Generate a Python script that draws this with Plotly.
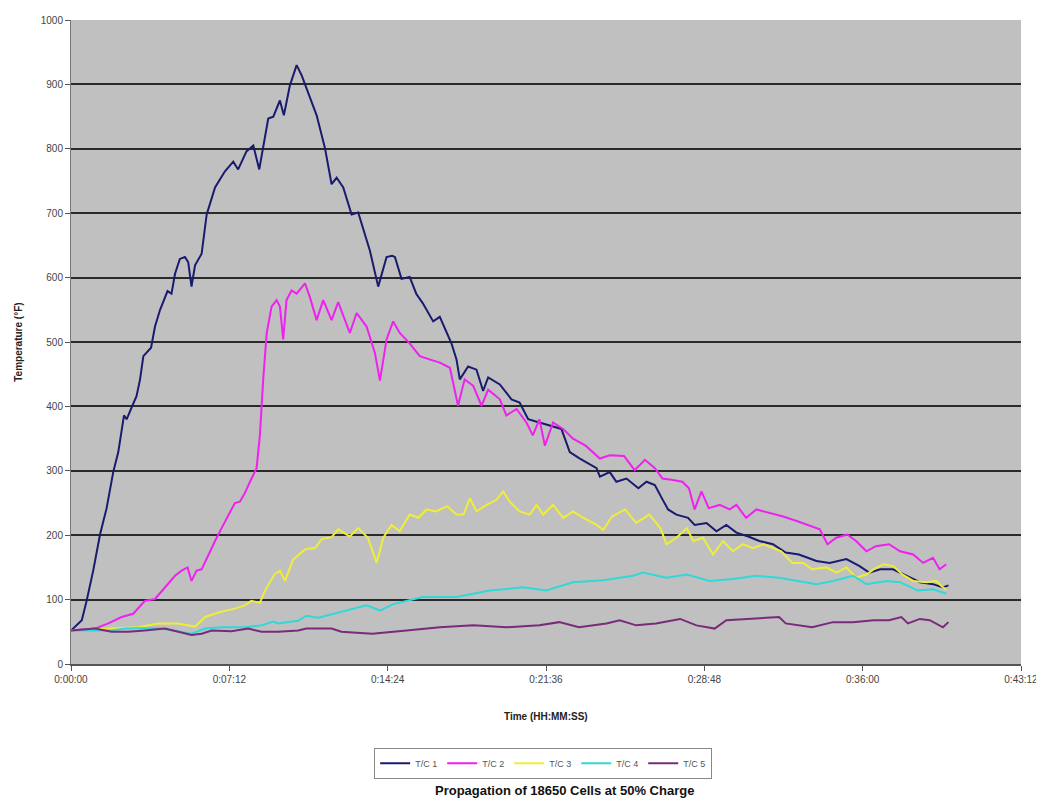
import plotly.graph_objects as go

# ---- data (time in minutes, temperature in °F) ----
TC1_T = [0.0, 0.49, 0.71, 1.01, 1.32, 1.62, 1.92, 2.15, 2.41, 2.53, 2.79, 2.98, 3.14, 3.29, 3.64, 3.82,
         4.05, 4.27, 4.39, 4.57, 4.73, 4.95, 5.18, 5.33, 5.48, 5.64, 5.79, 5.94, 6.17, 6.55, 7.0, 7.38,
         7.6, 7.98, 8.29, 8.56, 8.97, 9.2, 9.5, 9.68, 9.95, 10.26, 10.49, 10.71, 11.17, 11.55, 11.85,
         12.08, 12.38, 12.76, 13.06, 13.59, 13.97, 14.35, 14.6, 14.73, 15.03, 15.4, 15.7, 16.0, 16.47,
         16.77, 17.3, 17.53, 17.68, 18.06, 18.44, 18.74, 18.97, 19.5, 20.03, 20.4, 20.79, 21.3, 22.3,
         22.68, 23.14, 23.9, 24.05, 24.5, 24.8, 25.26, 25.8, 26.17, 26.55, 26.86, 27.15, 27.53, 28.06,
         28.36, 28.9, 29.35, 29.8, 30.26, 30.8, 31.3, 31.92, 32.5, 33.1, 33.9, 34.5, 35.26, 35.86,
         36.3, 36.8, 37.38, 37.98, 38.6, 39.2, 39.65, 39.9]
TC1_V = [52, 68, 98, 145, 201, 242, 298, 329, 386, 380, 401, 416, 442, 478, 491, 524,
         550, 570, 579, 575, 606, 629, 632, 624, 586, 619, 627, 637, 698, 740, 765, 780,
         768, 796, 805, 768, 847, 850, 875, 852, 898, 930, 914, 893, 852, 801, 745,
         755, 740, 698, 701, 642, 586, 632, 634, 632, 598, 601, 575, 560, 532,
         539, 498, 473, 442, 462, 457, 424, 445, 434, 411, 406, 380, 375, 365,
         329, 319, 304, 291, 298, 283, 288, 273, 283, 278, 258, 240, 232, 227,
         216, 219, 206, 216, 204, 198, 191, 186, 173, 170, 160, 157, 163, 152,
         142, 147, 147, 137, 127, 124, 119, 122]

TC2_T = [0.0, 1.09, 1.7, 2.3, 2.83, 3.36, 3.82, 4.27, 4.73, 5.03, 5.3, 5.48, 5.71, 5.94, 6.24, 6.55,
         6.85, 7.23, 7.45, 7.68, 7.9, 8.14, 8.44, 8.59, 8.74, 8.9, 9.12, 9.35, 9.5, 9.65, 9.8, 10.03,
         10.26, 10.64, 10.86, 11.17, 11.47, 11.85, 12.15, 12.68, 12.99, 13.44, 13.82, 14.05, 14.35,
         14.65, 14.95, 15.4, 15.86, 16.3, 16.77, 17.23, 17.6, 17.9, 18.29, 18.67, 18.97, 19.5, 19.8,
         20.26, 20.71, 21.0, 21.3, 21.55, 21.92, 22.38, 22.83, 23.4, 24.05, 24.5, 25.15, 25.63, 26.1,
         26.55, 26.9, 27.3, 27.8, 28.1, 28.36, 28.67, 29.0, 29.5, 29.95, 30.26, 30.7, 31.17, 31.77,
         32.38, 33.0, 33.6, 34.05, 34.4, 34.8, 35.3, 35.7, 36.17, 36.6, 37.2, 37.7, 38.3, 38.75,
         39.2, 39.5, 39.8]
TC2_V = [52, 55, 63, 73, 78, 98, 101, 119, 137, 145, 150, 129, 145, 147, 170, 191,
         211, 237, 250, 252, 265, 283, 304, 355, 442, 514, 555, 565, 555, 504, 565, 580,
         575, 591, 570, 534, 565, 534, 562, 514, 545, 524, 483, 440, 504,
         532, 514, 498, 478, 473, 468, 460, 401, 442, 432, 401, 426, 411, 386,
         396, 375, 355, 380, 339, 375, 365, 350, 339, 319, 324, 323, 301, 317,
         304, 288, 286, 283, 273, 240, 268, 242, 247, 240, 247, 227, 240, 235,
         229, 222, 214, 209, 186, 196, 201, 191, 175, 183, 186, 175, 170, 157,
         165, 147, 155]

TC3_T = [0.0, 1.85, 3.06, 3.97, 4.88, 5.64, 6.1, 6.7, 7.45, 7.9, 8.2, 8.59, 8.82, 9.27, 9.5, 9.73,
         10.1, 10.64, 11.1, 11.4, 11.85, 12.15, 12.68, 13.06, 13.5, 13.9, 14.2, 14.58, 14.95, 15.4,
         15.8, 16.17, 16.6, 17.1, 17.53, 17.85, 18.14, 18.44, 18.9, 19.35, 19.65, 19.95, 20.4, 20.86,
         21.17, 21.47, 21.92, 22.38, 22.83, 23.3, 23.9, 24.2, 24.6, 25.2, 25.7, 26.3, 26.8, 27.08,
         27.53, 28.0, 28.3, 28.74, 29.2, 29.65, 30.1, 30.56, 31.0, 31.5, 31.9, 32.3, 32.8, 33.3,
         33.7, 34.35, 34.8, 35.26, 35.7, 36.17, 36.5, 36.95, 37.4, 37.8, 38.3, 38.9, 39.35, 39.65, 39.8]
TC3_V = [52, 55, 57, 63, 63, 58, 73, 80, 86, 91, 98, 95, 114, 140, 145, 129,
         162, 178, 180, 194, 197, 209, 198, 211, 196, 157, 196, 216, 206, 232,
         227, 240, 237, 245, 232, 232, 257, 237, 247, 255, 268, 252, 237, 232,
         247, 232, 247, 227, 237, 227, 216, 208, 229, 240, 219, 232, 211, 186,
         196, 211, 191, 196, 170, 191, 175, 186, 180, 186, 180, 175, 157, 157,
         147, 150, 142, 150, 134, 139, 147, 155, 152, 139, 129, 127, 129, 119, 116]

TC4_T = [0.0, 1.85, 2.45, 3.36, 4.12, 4.88, 5.48, 6.1, 6.85, 7.9, 8.67, 9.2, 9.42, 10.33, 10.7, 11.24,
         12.2, 13.44, 14.05, 14.65, 16.0, 17.53, 19.05, 20.56, 21.6, 22.83, 24.2, 24.95, 25.56, 26.0,
         27.08, 28.0, 29.05, 30.1, 31.17, 32.2, 33.1, 33.9, 34.65, 35.56, 36.17, 37.1, 37.7, 38.5,
         39.2, 39.8]
TC4_V = [52, 52, 55, 56, 55, 50, 47, 55, 57, 57, 60, 66, 63, 67, 75, 72,
         80, 91, 83, 93, 104, 104, 114, 119, 114, 127, 130, 134, 137, 142,
         134, 139, 129, 132, 137, 134, 129, 124, 129, 137, 124, 129, 127, 114,
         116, 109]

TC5_T = [0.0, 1.09, 1.85, 2.6, 3.36, 4.27, 4.88, 5.48, 5.94, 6.4, 7.3, 8.06, 8.67, 9.42, 10.33, 10.7,
         11.24, 11.85, 12.3, 13.7, 15.26, 16.77, 18.3, 19.8, 21.3, 22.2, 23.1, 24.35, 24.95, 25.7,
         26.6, 27.7, 28.44, 29.27, 29.8, 30.86, 32.2, 32.5, 33.7, 34.65, 35.56, 36.5, 37.2, 37.76,
         38.06, 38.6, 39.05, 39.65, 39.9]
TC5_V = [52, 55, 50, 50, 52, 55, 50, 45, 47, 52, 51, 55, 50, 50, 52, 55,
         55, 55, 50, 47, 52, 57, 60, 57, 60, 65, 57, 63, 68, 60,
         63, 70, 60, 55, 68, 70, 73, 63, 57, 65, 65, 68, 68, 73,
         63, 70, 68, 57, 65]

SERIES_NAMES = ["T/C 1", "T/C 2", "T/C 3", "T/C 4", "T/C 5"]
SERIES_COLORS = ["#1a1a6e", "#ee22ee", "#eeee3a", "#30d8d8", "#7a2a7a"]

X_TICK_VALS = [0, 7.2, 14.4, 21.6, 28.8, 36.0, 43.2]
X_TICK_TEXT = ["0:00:00", "0:07:12", "0:14:24", "0:21:36", "0:28:48", "0:36:00", "0:43:12"]
Y_TICK_VALS = [0, 100, 200, 300, 400, 500, 600, 700, 800, 900, 1000]

TITLE = "Propagation of 18650 Cells at 50% Charge"
X_TITLE = "Time (HH:MM:SS)"
Y_TITLE = "Temperature (°F)"

FONT = "Liberation Sans, Arial, sans-serif"

fig = go.Figure()
data = [(TC1_T, TC1_V), (TC2_T, TC2_V), (TC3_T, TC3_V), (TC4_T, TC4_V), (TC5_T, TC5_V)]
for (t, v), name, color in zip(data, SERIES_NAMES, SERIES_COLORS):
    fig.add_trace(go.Scatter(x=t, y=v, mode="lines", name=name,
                             line=dict(color=color, width=2)))

# page body adds an 8px margin, so the figure is sized/margined to compensate
fig.update_layout(
    width=1036, height=798,
    margin=dict(l=63, r=23, t=6, b=142),
    paper_bgcolor="white",
    plot_bgcolor="#c0c0c0",
    font=dict(family=FONT, size=10, color="#444444"),
    showlegend=True,
    legend=dict(orientation="h", x=0.497, xanchor="center", y=-0.13, yanchor="top",
                bordercolor="#888888", borderwidth=1, bgcolor="white",
                font=dict(size=9, color="#555555"), itemwidth=30,
                tracegroupgap=0),
    xaxis=dict(range=[0, 43.2], tickvals=X_TICK_VALS, ticktext=X_TICK_TEXT,
               showgrid=False, zeroline=False, showline=True, linecolor="#555555", linewidth=1.5,
               ticks="outside", ticklen=5, tickcolor="#555555",
               tickfont=dict(size=10, color="#444444")),
    yaxis=dict(range=[0, 1000], tickvals=Y_TICK_VALS,
               showgrid=True, gridcolor="#2a2a2a", gridwidth=1.5, zeroline=False,
               showline=True, linecolor="#777777", linewidth=1,
               ticks="outside", ticklen=5, tickcolor="#555555",
               tickfont=dict(size=10, color="#444444")),
    annotations=[
        dict(text="<b>%s</b>" % X_TITLE, xref="paper", yref="paper", x=0.5, y=-0.0815,
             xanchor="center", yanchor="middle", showarrow=False,
             font=dict(size=10, color="#222222")),
        dict(text="<b>%s</b>" % Y_TITLE, xref="paper", yref="paper", x=-0.056, y=0.5,
             xanchor="center", yanchor="middle", textangle=-90, showarrow=False,
             font=dict(size=10, color="#222222")),
        dict(text="<b>%s</b>" % TITLE, xref="paper", yref="paper", x=0.519, y=-0.197,
             xanchor="center", yanchor="middle", showarrow=False,
             font=dict(size=13, color="#111111")),
    ],
)

fig.write_html("out.html")
